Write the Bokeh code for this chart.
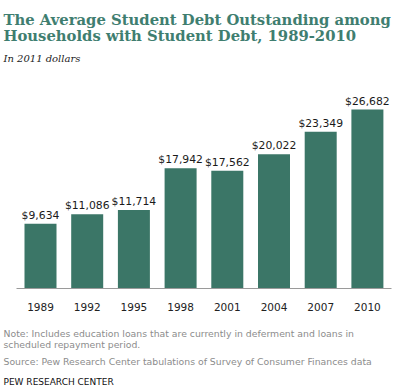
from bokeh.plotting import figure
from bokeh.models import Label, Range1d, ColumnDataSource
from bokeh.core.properties import value
from bokeh.embed import file_html
from bokeh.resources import INLINE

# ---- data ----
years = ["1989", "1992", "1995", "1998", "2001", "2004", "2007", "2010"]
debt = [9634, 11086, 11714, 17942, 17562, 20022, 23349, 26682]
debt_labels = ["$" + f"{v:,}" for v in debt]

title_lines = ["The Average Student Debt Outstanding among",
               "Households with Student Debt, 1989-2010"]
subtitle = "In 2011 dollars"
note_lines = ["Note: Includes education loans that are currently in deferment and loans in",
              "scheduled repayment period."]
source_line = "Source: Pew Research Center tabulations of Survey of Consumer Finances data"
credit_line = "PEW RESEARCH CENTER"

# ---- layout / style ----
W, H = 396, 387
BASE_ROW = 288                # pixel row of the zero line, from the canvas top
PX_PER_UNIT = 179.0 / 26682   # vertical scale (px per dollar)
SLOT = 46.7                   # px between bar centres
FIRST_CENTRE = 40.0           # px from the canvas left
AXIS_LEFT, AXIS_RIGHT = 16.0, 391.0
BAR = "#3b7667"
TEAL = "#3f7e70"
GRAY = "#8c8c8c"


def ypx(row):
    """data y at a pixel row measured from the canvas top"""
    return (BASE_ROW - row) / PX_PER_UNIT


def xpx(col):
    """data x at a pixel column measured from the canvas left"""
    return (col - FIRST_CENTRE) / SLOT


src = ColumnDataSource(dict(x=list(range(len(years))), year=years,
                            debt=debt, lab=debt_labels,
                            zero=[0] * len(years)))

p = figure(width=W, height=H, output_backend="svg", toolbar_location=None,
           title=None, x_axis_location=None, y_axis_location=None,
           min_border=0, min_border_left=0, min_border_right=0,
           min_border_top=0, min_border_bottom=0,
           x_range=Range1d(xpx(0), xpx(W)), y_range=Range1d(ypx(H), ypx(0)))
p.outline_line_color = None
p.grid.visible = False
p.background_fill_color = "white"
p.border_fill_color = "white"

p.vbar(x="x", top="debt", width=32.0 / SLOT, source=src,
       color=BAR, line_color=None)

# value labels above the bars
p.text(x="x", y="debt", text="lab", source=src, text_align="center",
       text_baseline="alphabetic", y_offset=-8.5,
       text_font=value("DejaVu Sans"), text_font_size="10.8px",
       text_color="#1a1a1a")

# base line and category labels
p.segment(x0=xpx(AXIS_LEFT), y0=0, x1=xpx(AXIS_RIGHT), y1=0,
          line_color="#9a9a9a", line_width=1)
p.text(x="x", y="zero", text="year", source=src, text_align="center",
       text_baseline="alphabetic", y_offset=18,
       text_font=value("DejaVu Sans"), text_font_size="10.5px",
       text_color="#222222")


def add_label(text, row, font, size, color, style="normal"):
    p.add_layout(Label(x=3, y=ypx(row), x_units="screen", text=text,
                       text_font=font, text_font_size=size,
                       text_font_style=style, text_color=color,
                       text_baseline="alphabetic", text_align="left"))


add_label(title_lines[0], 18.5, "DejaVu Serif", "14.8px", TEAL, "bold")
add_label(title_lines[1], 35, "DejaVu Serif", "14.8px", TEAL, "bold")
add_label(subtitle, 58.3, "DejaVu Serif", "10px", "#222222", "italic")
add_label(note_lines[0], 333, "DejaVu Sans", "9.3px", GRAY)
add_label(note_lines[1], 343.5, "DejaVu Sans", "9.3px", GRAY)
add_label(source_line, 361, "DejaVu Sans", "9.3px", GRAY)
add_label(credit_line, 381, "DejaVu Sans", "9px", "#111111")

open("out.html", "w").write(file_html(p, INLINE))
